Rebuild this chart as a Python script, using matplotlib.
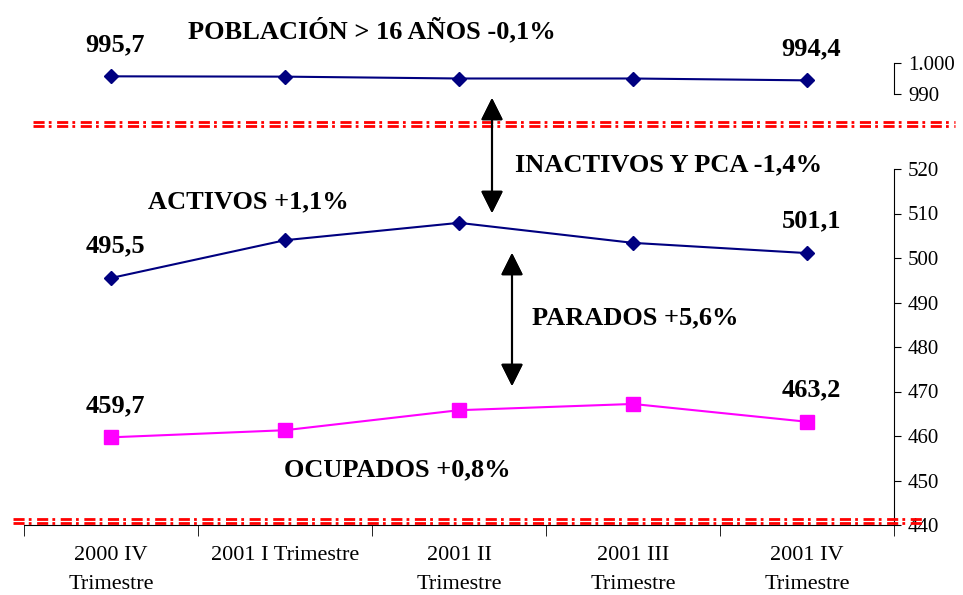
import numpy as np
import matplotlib.pyplot as plt
from matplotlib.lines import Line2D

plt.rcParams['font.family'] = ['Liberation Serif', 'DejaVu Serif']
plt.rcParams['lines.scale_dashes'] = False

# datos (miles de personas)
trimestres = ["2000 IV\nTrimestre", "2001 I Trimestre", "2001 II\nTrimestre",
              "2001 III\nTrimestre", "2001 IV\nTrimestre"]
poblacion = [995.7, 995.6, 995.0, 995.0, 994.4]
activos = [495.5, 504.0, 507.9, 503.4, 501.1]
ocupados = [459.7, 461.3, 465.8, 467.2, 463.2]
etiq_pob = ["995,7", "994,4"]
etiq_act = ["495,5", "501,1"]
etiq_ocu = ["459,7", "463,2"]

W, H = 963, 595
fig = plt.figure(figsize=(W / 100, H / 100), dpi=100)

def px(x, y):
    # pixel -> fraccion de figura
    return x / W, 1 - y / H

x = np.arange(len(trimestres))
navy = "#000080"
magenta = "#FF00FF"

# eje principal (activos / ocupados)
ax = fig.add_axes([24 / W, 1 - 525 / H, 870 / W, 356 / H])
ax.set_xlim(-0.5, 4.5)
ax.set_ylim(440, 520)
ax.plot(x, activos, color=navy, lw=1.5, marker="D", ms=7.5, clip_on=False)
ax.plot(x, ocupados, color=magenta, lw=1.5, marker="s", ms=10, clip_on=False)

for sp in ["left", "top"]:
    ax.spines[sp].set_visible(False)
ax.yaxis.tick_right()
ax.set_yticks(np.arange(440, 521, 10))
ax.tick_params(axis="y", direction="out", length=5, pad=5, labelsize=15)
ax.set_xticks(x)
ax.set_xticklabels(trimestres, fontsize=16, linespacing=1.75, va="top")
ax.set_xticks(np.arange(-0.5, 4.6, 1), minor=True)
ax.tick_params(axis="x", which="major", length=0, pad=15)
ax.tick_params(axis="x", which="minor", length=8)

# eje superior (poblacion > 16 años)
ax2 = fig.add_axes([24 / W, 1 - 94 / H, 870 / W, 31 / H])
ax2.set_xlim(-0.5, 4.5)
ax2.set_ylim(990, 1000)
ax2.patch.set_visible(False)
ax2.plot(x, poblacion, color=navy, lw=1.5, marker="D", ms=7.5, clip_on=False)
for sp in ["left", "top", "bottom"]:
    ax2.spines[sp].set_visible(False)
ax2.set_xticks([])
ax2.yaxis.tick_right()
ax2.set_yticks([990, 1000])
ax2.set_yticklabels(["990", "1.000"])
ax2.tick_params(axis="y", direction="out", length=5, pad=5, labelsize=15)

# etiquetas de datos
bold = dict(fontsize=19, fontweight="bold", ha="center", va="center")
for axx, serie, etq in [(ax2, poblacion, etiq_pob), (ax, activos, etiq_act),
                        (ax, ocupados, etiq_ocu)]:
    for i, t in zip([0, 4], etq):
        axx.annotate(t, (x[i], serie[i]), xytext=(3, 23), textcoords="offset points",
                     annotation_clip=False, **bold)

fig.text(*px(372, 30), "POBLACIÓN > 16 AÑOS -0,1%", **bold)
fig.text(*px(669, 165), "INACTIVOS Y PCA -1,4%", **bold)
fig.text(*px(248, 202), "ACTIVOS +1,1%", **bold)
fig.text(*px(635, 318), "PARADOS +5,6%", **bold)
fig.text(*px(397, 470), "OCUPADOS +0,8%", **bold)

# flechas dobles
flecha = dict(arrowstyle="<|-|>", color="black", lw=1.5, mutation_scale=34,
              shrinkA=0, shrinkB=0)
fig.add_artist(plt.annotate("", xy=px(492, 98), xytext=px(492, 213),
                            xycoords="figure fraction", arrowprops=flecha))
fig.add_artist(plt.annotate("", xy=px(512, 253), xytext=px(512, 386),
                            xycoords="figure fraction", arrowprops=flecha))

# lineas rojas de corte (dobles)
for (x0, x1, y0) in [(33, 955, 122.5), (13, 923, 519)]:
    for dy in (0, 3.5):
        xa, ya = px(x0, y0 + dy)
        xb, _ = px(x1, y0 + dy)
        fig.add_artist(Line2D([xa, xb], [ya, ya], transform=fig.transFigure,
                              color="red", lw=2, dashes=[8, 3, 2, 4]))

fig.savefig("out.png", dpi=100)
